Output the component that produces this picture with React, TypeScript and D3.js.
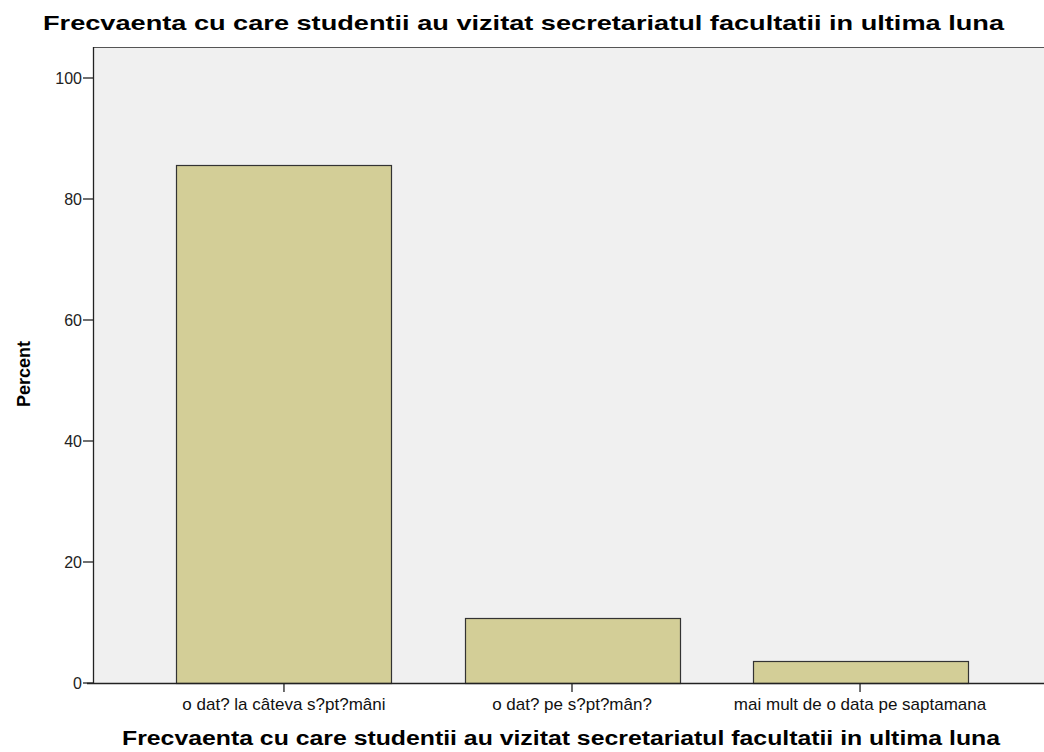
import React from "react";
import * as d3 from "d3";

const categories = [
  "o dat? la câteva s?pt?mâni",
  "o dat? pe s?pt?mân?",
  "mai mult de o data pe saptamana",
];
const percents = [85.7, 10.7, 3.6];
const yTicks = [0, 20, 40, 60, 80, 100];
const titleText = "Frecvaenta cu care studentii au vizitat secretariatul facultatii in ultima luna";
const yAxisTitle = "Percent";

export default function App() {
  const W = 1044, H = 752;
  const left = 93, right = 1051, top = 47, bottom = 683;
  const x = d3.scalePoint<string>().domain(categories).range([left, right]).padding(0.663);
  const y = d3.scaleLinear().domain([0, 100]).range([bottom, 78]);
  const barW = 215;
  const font = "'Liberation Sans', Arial, sans-serif";
  return (
    <svg width={W} height={H} style={{ position: "absolute", left: 0, top: 0, background: "#fff" }}>
      <rect x={left} y={top} width={right - left} height={bottom - top} fill="#F0F0F0" />
      <line x1={left} x2={right} y1={top + 0.5} y2={top + 0.5} stroke="#555" strokeWidth={1.2} />
      {percents.map((v, i) => {
        const cx = x(categories[i])!;
        return (
          <rect key={i} x={Math.round(cx - barW / 2) + 0.5} y={Math.round(y(v)) + 0.5}
            width={barW} height={bottom - Math.round(y(v))}
            fill="#D3CE97" stroke="#333" strokeWidth={1.2} />
        );
      })}
      <line x1={left + 0.5} x2={left + 0.5} y1={top} y2={bottom} stroke="#222" strokeWidth={1.3} />
      <line x1={left - 6} x2={right} y1={bottom + 0.5} y2={bottom + 0.5} stroke="#222" strokeWidth={1.3} />
      {yTicks.map((t) => (
        <g key={t}>
          <line x1={left - 10} x2={left} y1={y(t)} y2={y(t)} stroke="#222" strokeWidth={1.3} />
          <text x={left - 11} y={y(t)} dy="0.36em" textAnchor="end" fontFamily={font} fontSize={16} fill="#222">{t}</text>
        </g>
      ))}
      {categories.map((c) => (
        <g key={c}>
          <line x1={x(c)!} x2={x(c)!} y1={bottom} y2={bottom + 9} stroke="#222" strokeWidth={1.3} />
          <text x={x(c)!} y={710} textAnchor="middle" fontFamily={font} fontSize={17} fill="#111">{c}</text>
        </g>
      ))}
      <text x={43} y={30} fontFamily={font} fontSize={21} fontWeight="bold" fill="#000"
        textLength={961} lengthAdjust="spacingAndGlyphs">{titleText}</text>
      <text x={122} y={745} fontFamily={font} fontSize={20} fontWeight="bold" fill="#000"
        textLength={878} lengthAdjust="spacingAndGlyphs">{titleText}</text>
      <text transform={`translate(30,374) rotate(-90)`} textAnchor="middle" fontFamily={font}
        fontSize={18} fontWeight="bold" fill="#000">{yAxisTitle}</text>
    </svg>
  );
}
